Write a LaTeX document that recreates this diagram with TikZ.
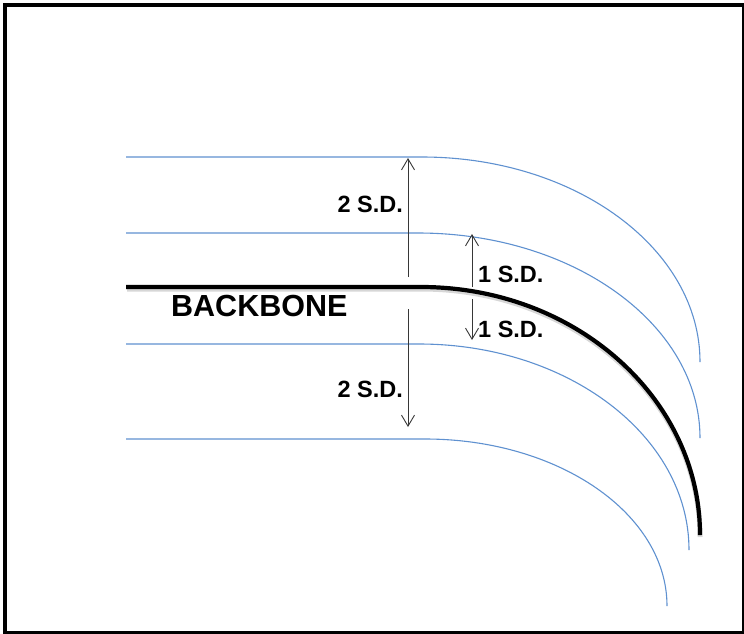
\documentclass[tikz,border=0pt]{standalone}
\usepackage{fontspec}
\setmainfont{Liberation Sans}
\usetikzlibrary{arrows.meta}
\definecolor{bandblue}{RGB}{95,145,208}
\definecolor{arrowgray}{RGB}{55,55,55}
\tikzset{
  band/.style={draw=bandblue, line width=1.1pt},
  bone/.style={draw=black, line width=4.2pt},
  boneshadow/.style={draw=black!35, line width=5pt, opacity=0.45},
  sdarrow/.style={draw=arrowgray, line width=0.9pt, -{Straight Barb[length=11pt,width=13pt,line width=0.9pt]}},
  sdlabel/.style={inner sep=0pt, font=\fontsize{23.5}{24}\selectfont\bfseries},
  bonelabel/.style={inner sep=0pt, font=\fontsize{30.5}{31}\selectfont\bfseries}
}
\begin{document}
\begin{tikzpicture}[x=1pt,y=-1pt]
\useasboundingbox (0,0) rectangle (744,633);
% frame
\draw[line width=4pt] (5,5) rectangle (743.5,632.5);
% bands
\draw[band] (126,157) -- (422,157) arc[start angle=-90, end angle=0, x radius=278, y radius=205];
\draw[band] (126,233) -- (418,233) arc[start angle=-90, end angle=0, x radius=282, y radius=205];
\draw[band] (126,344) -- (419,344) arc[start angle=-90, end angle=0, x radius=270, y radius=206];
\draw[band] (126,439) -- (425,439) arc[start angle=-90, end angle=0, x radius=242, y radius=167];
% backbone
\draw[boneshadow] (127,289) -- (421,289) arc[start angle=-90, end angle=0, x radius=279, y radius=248];
\draw[bone] (126,287) -- (421,287) arc[start angle=-90, end angle=0, x radius=279, y radius=248];
% arrow end points
\coordinate (u2s) at (408,277); \coordinate (u2e) at (408,158);
\coordinate (u1s) at (472,287); \coordinate (u1e) at (472,234);
\coordinate (l1s) at (472,299); \coordinate (l1e) at (472,340);
\coordinate (l2s) at (408,309); \coordinate (l2e) at (408,427);
\draw[sdarrow] (u2s) -- (u2e);
\draw[sdarrow] (u1s) -- (u1e);
\draw[sdarrow] (l1s) -- (l1e);
\draw[sdarrow] (l2s) -- (l2e);
% labels
\node[sdlabel, anchor=base east] (t2u) at (403,212) {2 S.D.};
\node[sdlabel, anchor=base west] (t1u) at (478,282) {1 S.D.};
\node[sdlabel, anchor=base west] (t1l) at (478,337) {1 S.D.};
\node[sdlabel, anchor=base east] (t2l) at (403,397) {2 S.D.};
\node[bonelabel, anchor=base west] (bb) at (171,316) {BACKBONE};
\end{tikzpicture}
\end{document}
